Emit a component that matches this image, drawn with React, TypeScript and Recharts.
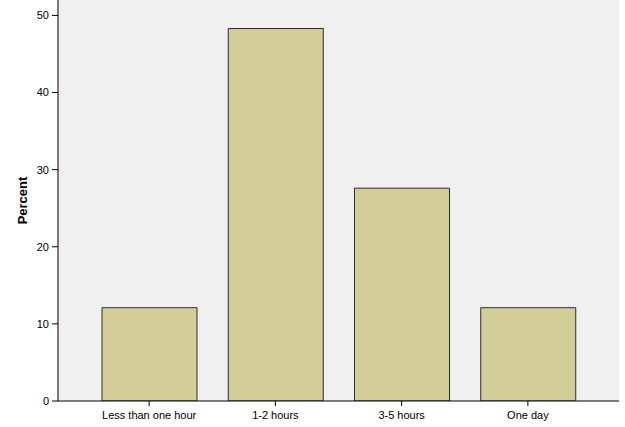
import { BarChart, Bar, XAxis, YAxis, CartesianGrid, Label } from 'recharts';

const categories = ['Less than one hour', '1-2 hours', '3-5 hours', 'One day'];
const percents = [12.1, 48.3, 27.6, 12.1];
const yTicks = [0, 10, 20, 30, 40, 50];

const data = categories.map((name, i) => ({ name, percent: percents[i] }));

const font = { fontFamily: 'Arial, "Liberation Sans", sans-serif', fontSize: 11, fill: '#000' };

export default function App() {
    return (
        <div style={{ position: 'absolute', left: 0, top: 0, background: '#fff' }}>
            <BarChart
                width={625}
                height={427}
                data={data}
                margin={{ top: 0, right: 6, bottom: 0, left: 0 }}
                barSize={95}
            >
                <CartesianGrid fill="#f0f0f0" horizontal={false} vertical={false} />
                <XAxis
                    dataKey="name"
                    height={26}
                    padding={{ left: 28, right: 28 }}
                    tick={font}
                    tickSize={5}
                    tickMargin={5}
                    axisLine={{ stroke: '#000' }}
                    tickLine={{ stroke: '#000' }}
                    interval={0}
                />
                <YAxis
                    width={58}
                    domain={[0, 52]}
                    ticks={yTicks}
                    allowDataOverflow
                    tick={font}
                    tickSize={6}
                    tickMargin={3}
                    axisLine={{ stroke: '#000' }}
                    tickLine={{ stroke: '#000' }}
                >
                    <Label
                        value="Percent"
                        angle={-90}
                        position="insideLeft"
                        offset={22}
                        style={{ fontFamily: 'Arial, "Liberation Sans", sans-serif', fontSize: 13, fontWeight: 'bold', fill: '#000', textAnchor: 'middle' }}
                    />
                </YAxis>
                <YAxis
                    yAxisId="right"
                    orientation="right"
                    width={0}
                    domain={[0, 52]}
                    tick={false}
                    tickLine={false}
                    axisLine={{ stroke: '#333', strokeWidth: 1.5 }}
                />
                <Bar
                    dataKey="percent"
                    fill="#d3ce97"
                    stroke="#2b2b2b"
                    strokeWidth={1}
                    isAnimationActive={false}
                />
            </BarChart>
        </div>
    );
}
